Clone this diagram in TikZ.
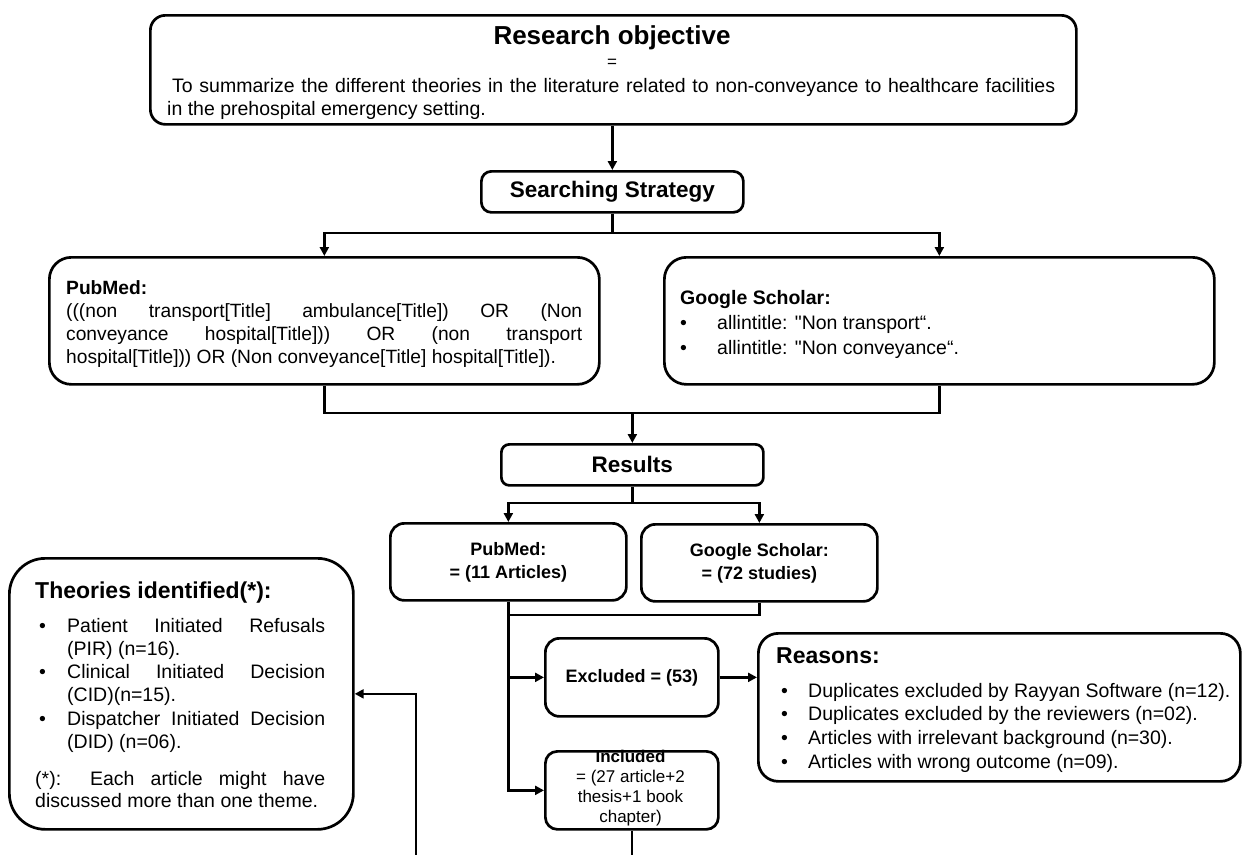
\documentclass[tikz,border=0pt]{standalone}
\usepackage{fontspec}
\setmainfont{Liberation Sans}[Ligatures=TeXOff]
\usetikzlibrary{arrows.meta}
\newcommand{\fsz}[1]{\fontsize{#1}{#1}\selectfont}
\begin{document}
\begin{tikzpicture}[x=1pt,y=-1pt,
  box/.style={draw, line width=2.7pt, rounded corners=13pt, inner sep=0pt, anchor=north west},
  txt/.style={inner sep=0pt},
  conn/.style={line width=2.7pt},
  arr/.style={line width=2.7pt, -{Triangle[length=9pt,width=9pt]}}]
\useasboundingbox (0,0) rectangle (1242,854);

% boxes
\node[box, rounded corners=15pt, minimum width=926pt, minimum height=109pt] (obj) at (149,14) {};
\node[box, rounded corners=10pt, minimum width=262pt, minimum height=41pt, font=\fsz{22.5}\bfseries] (ss) at (480,170) {Searching Strategy};
\node[box, rounded corners=22pt, minimum width=550pt, minimum height=127pt] (pm) at (48,256) {};
\node[box, rounded corners=22pt, minimum width=550pt, minimum height=127pt] (gs) at (663,256) {};
\node[box, rounded corners=8pt, minimum width=262pt, minimum height=41pt, font=\fsz{22.5}\bfseries] (res) at (500,443) {Results};
\node[box, rounded corners=14pt, minimum width=236pt, minimum height=77pt, align=center, font=\fontsize{18}{23}\selectfont\bfseries] (pmr) at (389,522) {PubMed:\\= (11 Articles)};
\node[box, rounded corners=14pt, minimum width=236pt, minimum height=77pt, align=center, font=\fontsize{18}{23}\selectfont\bfseries] (gsr) at (640,523) {Google Scholar:\\= (72 studies)};
\node[box, rounded corners=14pt, minimum width=173pt, minimum height=78pt, font=\fsz{18}\bfseries] (exc) at (544,637) {Excluded = (53)};
\node[box, rounded corners=20pt, minimum width=482pt, minimum height=148pt] (rea) at (757,632) {};
\node[box, rounded corners=12pt, minimum width=173pt, minimum height=78pt] (inc) at (544,750) {};
\node[box, rounded corners=36pt, minimum width=344pt, minimum height=271pt] (th) at (8,557) {};

% texts
\node[txt, anchor=base] (objt) at (612,44) {\fsz{26}\bfseries Research objective};
\node[txt, anchor=base] (objeq) at (612,67.5) {\fsz{17}=};
\node[txt, anchor=base west] (objl1) at (172,92) {\fsz{19.5}\makebox[883pt][s]{To summarize the different theories in the literature related to non-conveyance to healthcare facilities}};
\node[txt, anchor=base west] (objl2) at (167,115) {\fsz{19.5}in the prehospital emergency setting.};

\node[txt, anchor=base west] (pmt) at (66,294) {\parbox[t]{516pt}{\fontsize{19.2}{23}\selectfont
\textbf{PubMed:}\\
\makebox[516pt][s]{(((non transport[Title] ambulance[Title]) OR (Non}\\
\makebox[516pt][s]{conveyance hospital[Title])) OR (non transport}\\
hospital[Title])) OR (Non conveyance[Title] hospital[Title]).}};

\node[txt, anchor=base west] (gst) at (680,304) {\parbox[t]{520pt}{\fontsize{19.5}{25}\selectfont
\textbf{Google Scholar:}\\
\makebox[37pt][l]{•}allintitle: "Non transport“.\\
\makebox[37pt][l]{•}allintitle: "Non conveyance“.}};

\node[txt, anchor=base west] (reat) at (776,663) {\fsz{23}\bfseries Reasons:};
\node[txt, anchor=base west] (real) at (781,697) {\parbox[t]{460pt}{\fontsize{19.5}{23.9}\selectfont
\makebox[27pt][l]{•}Duplicates excluded by Rayyan Software (n=12).\\
\makebox[27pt][l]{•}Duplicates excluded by the reviewers (n=02).\\
\makebox[27pt][l]{•}Articles with irrelevant background (n=30).\\
\makebox[27pt][l]{•}Articles with wrong outcome (n=09).}};

\node[txt, align=center, font=\fontsize{17}{20}\selectfont] (inct) at (630.5,788) {\textbf{Included}\\= (27 article+2\\thesis+1 book\\chapter)};

\node[txt, anchor=base west] (tht) at (35,598) {\fsz{23}\bfseries Theories identified(*):};
\node[txt, anchor=base west] (thl) at (39,632) {\parbox[t]{290pt}{\fontsize{19.5}{23.3}\selectfont
\makebox[28pt][l]{•}\makebox[258pt][s]{Patient Initiated Refusals}\\
\hspace*{28pt}(PIR) (n=16).\\
\makebox[28pt][l]{•}\makebox[258pt][s]{Clinical Initiated Decision}\\
\hspace*{28pt}(CID)(n=15).\\
\makebox[28pt][l]{•}\makebox[258pt][s]{Dispatcher Initiated Decision}\\
\hspace*{28pt}(DID) (n=06).}};
\node[txt, anchor=base west] (thn) at (35,785) {\parbox[t]{290pt}{\fontsize{19.5}{22.5}\selectfont
\makebox[290pt][s]{(*): Each article might have}\\
discussed more than one theme.}};

% connectors
\coordinate (lvl1) at (0,233);
\coordinate (mg1) at (631,413);
\coordinate (lvl2) at (0,503);
\coordinate (lvl3) at (0,615);
\coordinate (bottom) at (0,857);
\coordinate (up) at (416,857);

\draw[arr] (obj.south -| ss.north) -- (ss.north);
\draw[conn] (ss.south) -- (ss.south |- lvl1);
\draw[arr] (ss.south |- lvl1) -- (pm.north |- lvl1) -- (pm.north);
\draw[arr] (ss.south |- lvl1) -- (gs.north |- lvl1) -- (gs.north);
\draw[conn] (pm.south) -- (pm.south |- mg1) -- (gs.south |- mg1) -- (gs.south);
\draw[arr] (res.north |- mg1) -- (res.north);
\draw[conn] (res.south) -- (res.south |- lvl2);
\draw[arr] (res.south |- lvl2) -- (pmr.north |- lvl2) -- (pmr.north);
\draw[arr] (res.south |- lvl2) -- (gsr.north |- lvl2) -- (gsr.north);
\draw[conn] (pmr.south) -- (pmr.south |- lvl3) -- (gsr.south |- lvl3) -- (gsr.south);
\draw[arr] (pmr.south |- lvl3) -- (pmr.south |- exc.west) -- (exc.west);
\draw[arr] (pmr.south |- lvl3) -- (pmr.south |- inc.west) -- (inc.west);
\draw[arr] (exc.east) -- (exc.east -| rea.west);
\draw[conn] (inc.south) -- (inc.south |- bottom);
\draw[arr] (up) -- (up |- th.east) -- (th.east);
\end{tikzpicture}
\end{document}
